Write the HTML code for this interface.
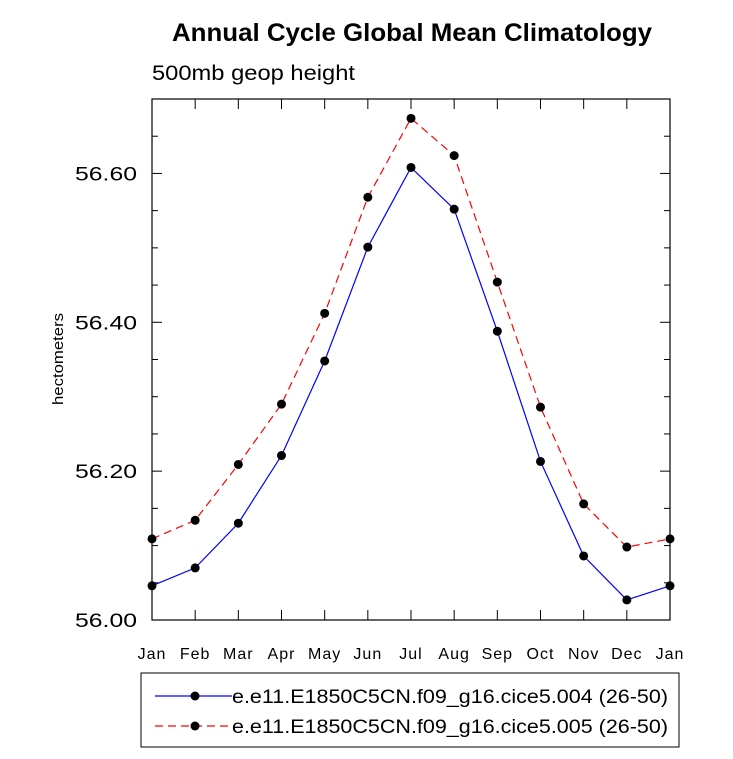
<!DOCTYPE html>
<html><head><meta charset="utf-8"><style>
body{margin:0;background:#fff;}
svg text{font-family:"Liberation Sans",Arial,sans-serif;}
</style></head><body>
<svg id="chart" width="733" height="754" viewBox="0 0 733 754">
<text x="412" y="41" text-anchor="middle" font-size="25" font-weight="bold" textLength="480" lengthAdjust="spacingAndGlyphs">Annual Cycle Global Mean Climatology</text>
<text x="152" y="80" font-size="21" textLength="203" lengthAdjust="spacingAndGlyphs">500mb geop height</text>
<text transform="translate(63,359) rotate(-90)" text-anchor="middle" font-size="15" textLength="92" lengthAdjust="spacingAndGlyphs">hectometers</text>
<g id="axes"></g>
<g id="series"></g>
<rect x="141" y="673" width="538" height="74" fill="none" stroke="#000" stroke-width="1"/>
<g>
<line x1="155" y1="696" x2="232" y2="696" stroke="#0000ff" stroke-width="1.2"/>
<circle cx="195" cy="696" r="4.5" fill="#000"/>
<text x="232" y="703" font-size="19" textLength="436" lengthAdjust="spacingAndGlyphs">e.e11.E1850C5CN.f09_g16.cice5.004 (26-50)</text>
</g>
<g>
<line x1="155" y1="726" x2="232" y2="726" stroke="#ff0000" stroke-width="1.2" stroke-dasharray="8,5"/>
<circle cx="195" cy="726" r="4.5" fill="#000"/>
<text x="232" y="733" font-size="19" textLength="436" lengthAdjust="spacingAndGlyphs">e.e11.E1850C5CN.f09_g16.cice5.005 (26-50)</text>
</g>
</svg>
<script>
const months=["Jan","Feb","Mar","Apr","May","Jun","Jul","Aug","Sep","Oct","Nov","Dec","Jan"];
const series004=[56.046,56.070,56.130,56.221,56.348,56.501,56.608,56.552,56.388,56.213,56.086,56.027,56.046];
const series005=[56.109,56.134,56.209,56.290,56.412,56.568,56.674,56.624,56.454,56.286,56.156,56.098,56.109];
const yTicks=[56.00,56.20,56.40,56.60];
const yMin=56.0,yMax=56.7;
const L=152,R=670,T=99,B=620;
const NS="http://www.w3.org/2000/svg";
function xs(i){return L+(R-L)*i/(months.length-1);}
function ys(v){return B-(v-yMin)/(yMax-yMin)*(B-T);}
function mk(tag,attrs,parent){const e=document.createElementNS(NS,tag);for(const k in attrs)e.setAttribute(k,attrs[k]);parent.appendChild(e);return e;}
const ax=document.getElementById('axes');
const frame=mk('rect',{x:L,y:T,width:R-L,height:B-T,fill:'none',stroke:'#000','stroke-width':1.2},ax);


months.forEach((m,i)=>{
  const x=xs(i);
  mk('line',{x1:x,y1:B,x2:x,y2:B-10,stroke:'#000'},ax);
  mk('line',{x1:x,y1:T,x2:x,y2:T+10,stroke:'#000'},ax);
  const t=mk('text',{x:x,y:B+39,'text-anchor':'middle','font-size':16,'letter-spacing':1},ax);
  t.textContent=m;
  
  
});
for(let v=yMin;v<=yMax+1e-9;v+=0.05){
  const y=ys(v);
  const major=yTicks.some(t=>Math.abs(t-v)<1e-6);
  const len=major?10:6;
  mk('line',{x1:L,y1:y,x2:L+len,y2:y,stroke:'#000'},ax);
  mk('line',{x1:R,y1:y,x2:R-len,y2:y,stroke:'#000'},ax);
}
yTicks.forEach(v=>{
  const t=mk('text',{x:L-15,y:ys(v)+7,'text-anchor':'end','font-size':19,textLength:62,lengthAdjust:'spacingAndGlyphs'},ax);
  t.textContent=v.toFixed(2);
  
  
});
const sg=document.getElementById('series');
function draw(data,color,dash,name){
  const g=mk('g',{},sg);
  
  
  const pts=data.map((v,i)=>xs(i)+','+ys(v)).join(' ');
  const pl=mk('polyline',{points:pts,fill:'none',stroke:color,'stroke-width':1.2},g);
  if(dash)pl.setAttribute('stroke-dasharray',dash);
  data.forEach((v,i)=>{
    const c=mk('circle',{cx:xs(i),cy:ys(v),r:4.5,fill:'#000'},g);
    
    
  });
}
draw(series004,'#0000ff',null,'series-004');
draw(series005,'#ff0000','8,5','series-005');
</script>
</body></html>
